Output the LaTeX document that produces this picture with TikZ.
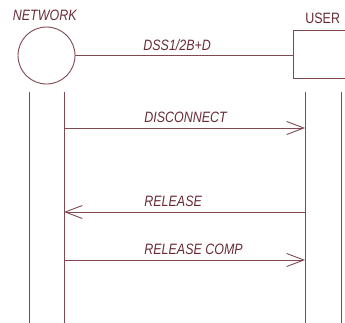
\documentclass[tikz,border=0pt]{standalone}
\usepackage{fontspec}
\setmainfont{Liberation Sans}[FakeStretch=0.83]
\usetikzlibrary{arrows.meta}
\definecolor{linec}{RGB}{128,72,80}
\definecolor{textc}{RGB}{104,44,54}
\begin{document}
\begin{tikzpicture}[x=1pt,y=-1pt, color=linec, line width=0.9pt,
  lbl/.style={text=textc, font=\fontsize{15}{17}\selectfont\itshape, inner sep=0pt, anchor=base west},
  ulbl/.style={text=textc, font=\fontsize{15}{17}\selectfont, inner sep=0pt, anchor=base west},
  msg/.style={-{Straight Barb[length=17pt,width=13pt,line width=0.9pt]}},
  lifeline/.style={line width=0.9pt}]
\useasboundingbox (0,0) rectangle (345,322);
\clip (0,0) rectangle (345,322);

% entities
\node[draw, circle, minimum size=57pt, inner sep=0pt] (net) at (46.5,55.5) {};
\node[draw, minimum width=60pt, minimum height=48pt, inner sep=0pt] (user) at (323,54) {};
\node[lbl] (netname) at (12.5,20.5) {NETWORK};
\node[ulbl] (username) at (305,23.5) {USER};

% interface line between network and user
\draw (net.east) -- (net.east -| user.west);
\node[lbl] (iface) at (143,50.5) {DSS1/2B+D};

% lifelines
\coordinate (l1t) at (29,92);  \coordinate (l1b) at (29,330);
\coordinate (l2t) at (64,92);  \coordinate (l2b) at (64,330);
\coordinate (r1t) at (305,92); \coordinate (r1b) at (305,330);
\coordinate (r2t) at (341,92); \coordinate (r2b) at (341,330);
\draw[lifeline] (l1t) -- (l1b);
\draw[lifeline] (l2t) -- (l2b);
\draw[lifeline] (r1t) -- (r1b);
\draw[lifeline] (r2t) -- (r2b);

% messages
\coordinate (m1a) at (64,128);  \coordinate (m1b) at (305,128);
\coordinate (m2a) at (305,212); \coordinate (m2b) at (64,212);
\coordinate (m3a) at (64,260);  \coordinate (m3b) at (305,260);
\draw[msg] (m1a) -- (m1b);
\draw[msg] (m2a) -- (m2b);
\draw[msg] (m3a) -- (m3b);
\node[lbl] (t1) at (144,122.5) {DISCONNECT};
\node[lbl] (t2) at (144,206) {RELEASE};
\node[lbl] (t3) at (144,254) {RELEASE COMP};
\end{tikzpicture}
\end{document}
